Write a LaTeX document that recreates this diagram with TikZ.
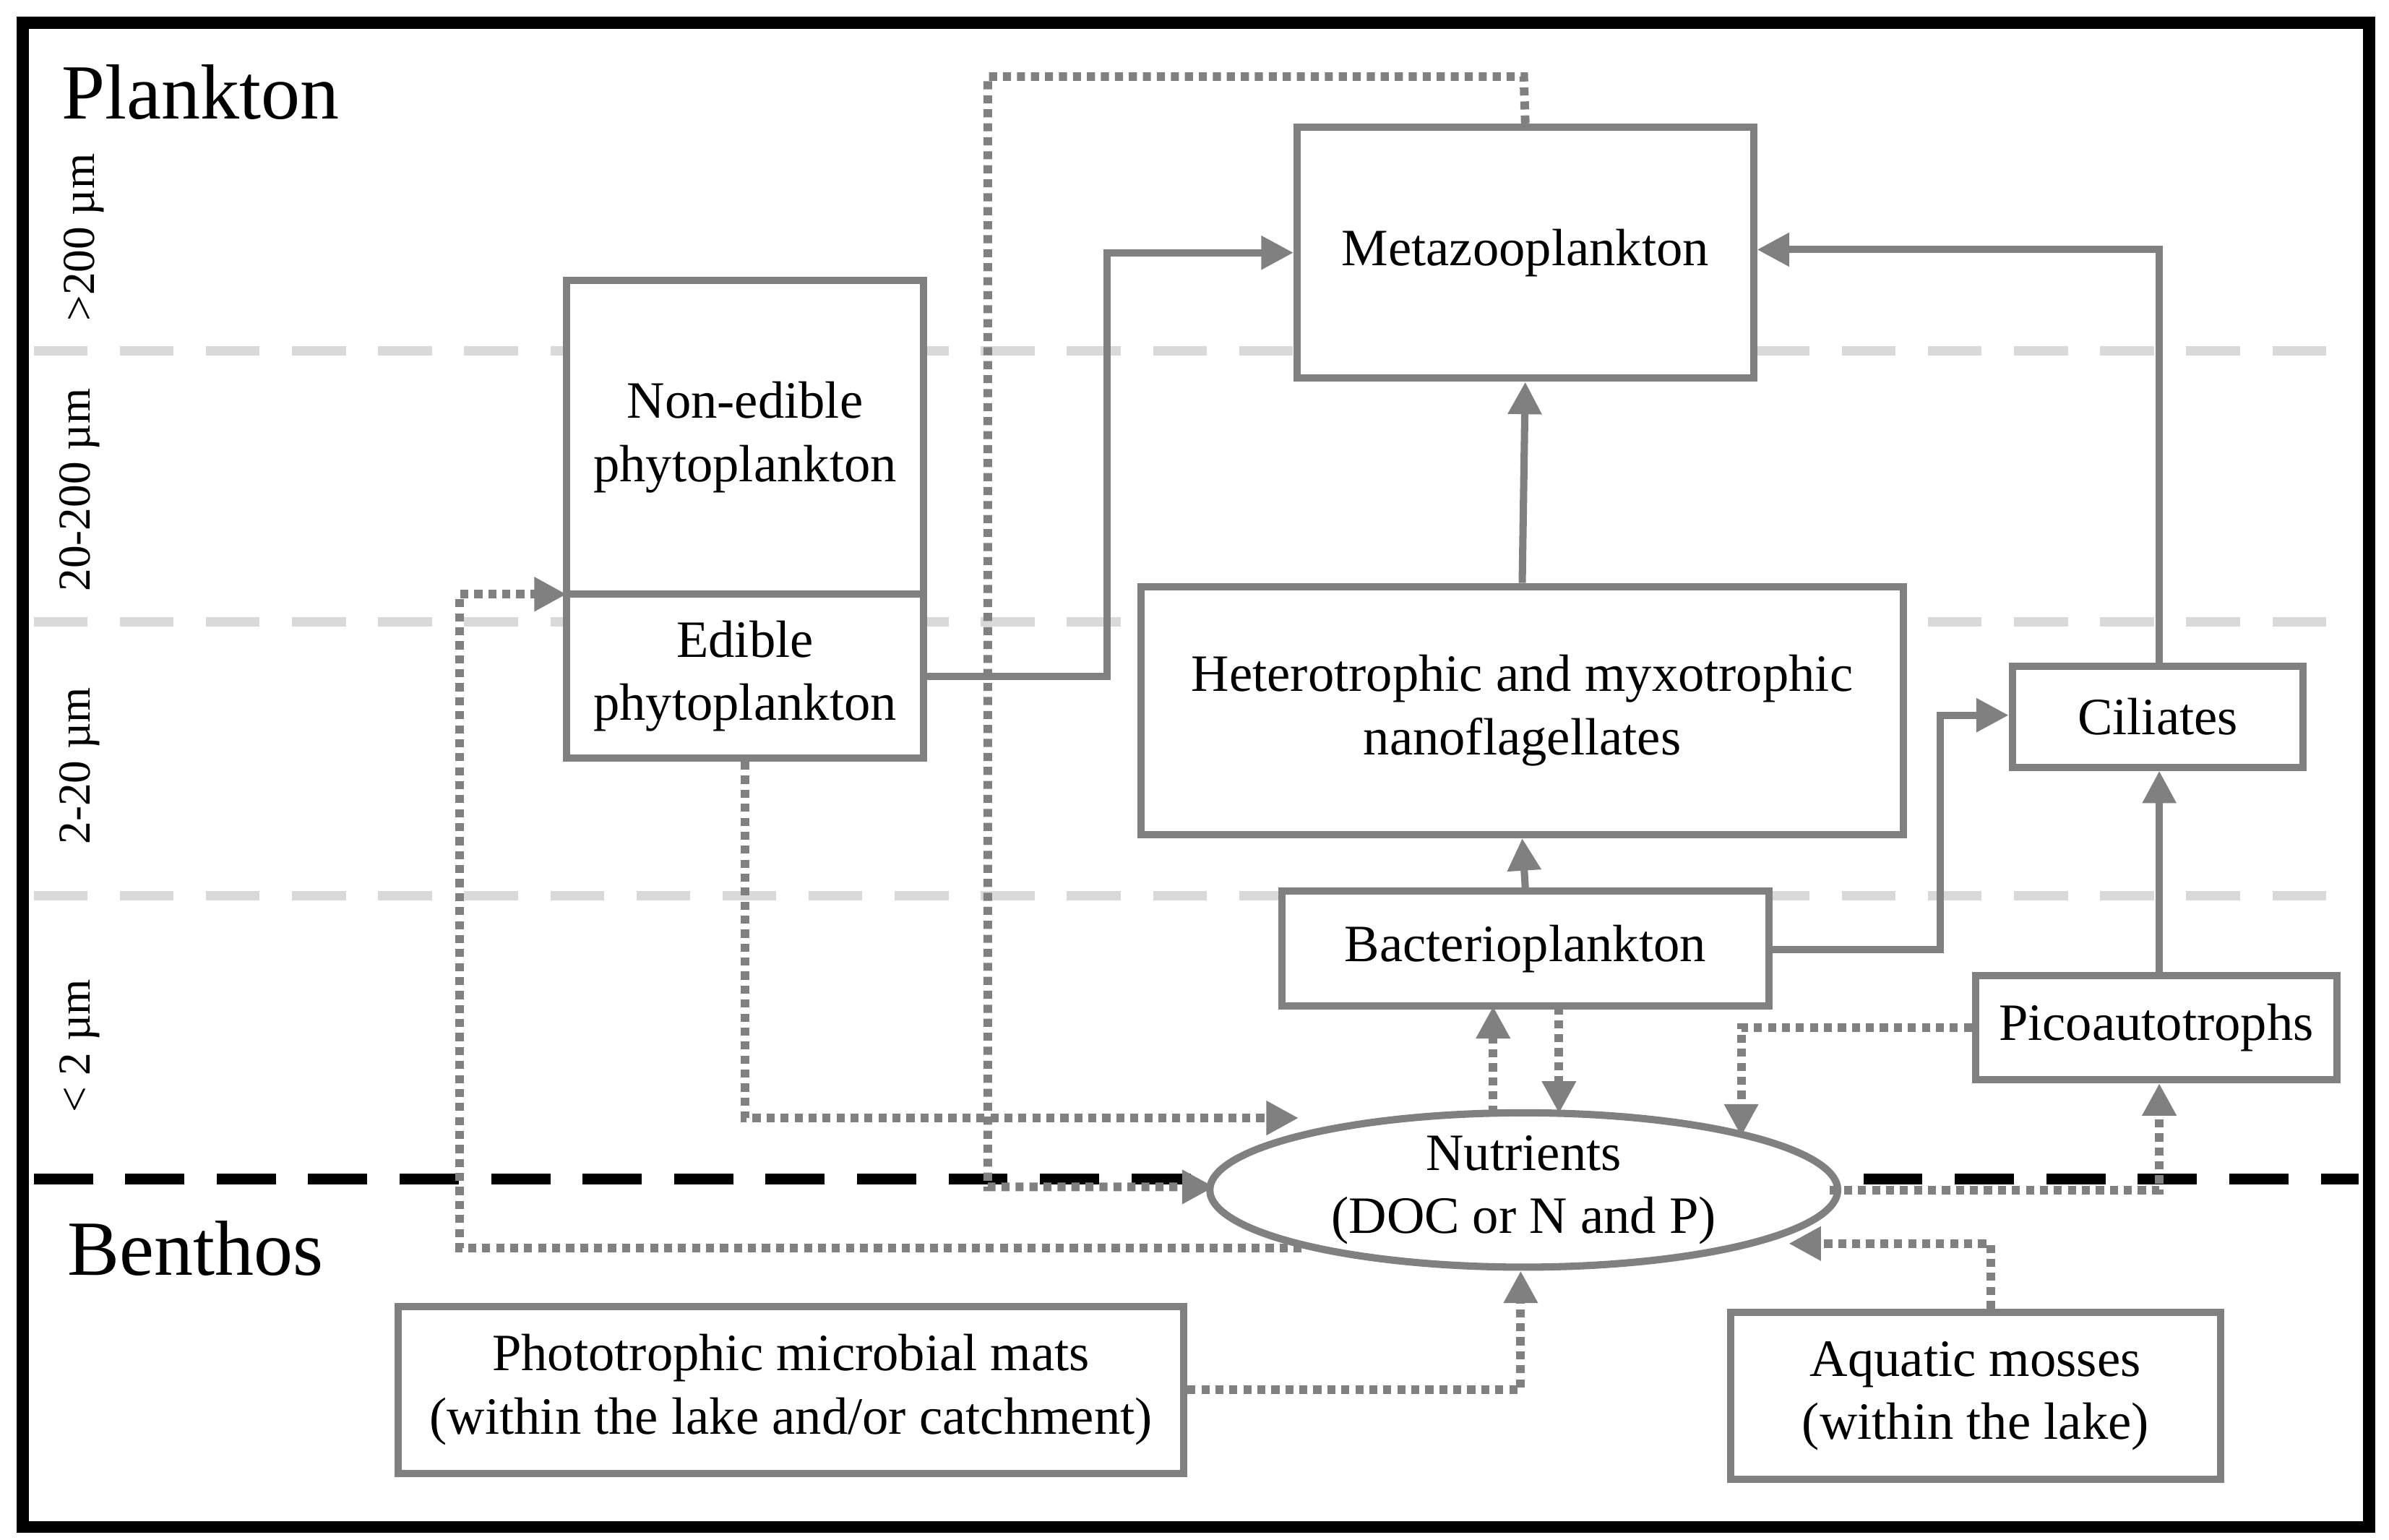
\documentclass[tikz,border=0pt]{standalone}
\usepackage{fontspec}
\setmainfont{Liberation Serif}
\usetikzlibrary{arrows.meta,shapes.geometric}
\definecolor{bx}{HTML}{808080}
\definecolor{lg}{HTML}{D9D9D9}
\begin{document}
\begin{tikzpicture}[x=0.02cm,y=-0.02cm,
 box/.style={draw=bx,line width=2.7pt,fill=white,font=\fontsize{19.5}{23.5}\selectfont,align=center,inner sep=0pt},
 sol/.style={draw=bx,line width=2.7pt,-{Triangle[length=12pt,width=12pt]}},
 dot/.style={draw=bx,line width=3.2pt,dash pattern=on 3pt off 2.2pt,-{Triangle[length=12pt,width=12pt]}},
 lab/.style={font=\fontsize{17}{19}\selectfont,rotate=90,anchor=center}]
\useasboundingbox (0,0) rectangle (1560,1005.5);
\fill[white] (0,0) rectangle (1560,1005.5);
% guide lines
\foreach \y in {229,406,585}{\draw[lg,line width=3.5pt,dash pattern=on 20pt off 12pt] (22,\y)--(1540,\y);}
\draw[black,line width=4pt,dash pattern=on 22pt off 12pt] (22,770)--(1540,770);
\draw[black,line width=4.5pt] (15,15) rectangle (1547,997);
\node[anchor=west,font=\fontsize{29}{33}\selectfont] (pl) at (34,60) {Plankton};
\node[anchor=west,font=\fontsize{29}{33}\selectfont] (be) at (38,815) {Benthos};
\node[lab] (s1) at (55,155) {>200 µm};
\node[lab] (s2) at (52,320) {20-200 µm};
\node[lab] (s3) at (52,500) {2-20 µm};
\node[lab] (s4) at (52,683) {< 2 µm};
% boxes
\node[box,minimum width=298*0.02cm,minimum height=164*0.02cm] (meta) at (996,165) {Metazooplankton};
\node[box,minimum width=233*0.02cm,minimum height=205*0.02cm] (non) at (486.5,285.5) {Non-edible\\phytoplankton};
\node[box,minimum width=233*0.02cm,minimum height=107*0.02cm] (edi) at (486.5,441.5) {Edible\\phytoplankton};
\node[box,minimum width=498*0.02cm,minimum height=162*0.02cm] (het) at (994,464) {Heterotrophic and myxotrophic\\nanoflagellates};
\node[box,minimum width=190*0.02cm,minimum height=66*0.02cm] (cil) at (1409,468) {Ciliates};
\node[box,minimum width=318*0.02cm,minimum height=75*0.02cm] (bac) at (996,619.5) {Bacterioplankton};
\node[box,minimum width=236*0.02cm,minimum height=68*0.02cm] (pic) at (1408,671) {Picoautotrophs};
\node[box,ellipse,minimum width=410*0.02cm,minimum height=100*0.02cm] (nut) at (995,777) {Nutrients\\(DOC or N and P)};
\node[box,minimum width=513*0.02cm,minimum height=109*0.02cm] (pho) at (516.5,907.5) {Phototrophic microbial mats\\(within the lake and/or catchment)};
\node[box,minimum width=320*0.02cm,minimum height=109*0.02cm] (mos) at (1290,911.5) {Aquatic mosses\\(within the lake)};
% solid arrows
\draw[sol] (edi.east) -- (723,441.5) -- (723,165) -- (meta.west);
\draw[sol] (het.north) -- (meta.south);
\draw[sol] (cil.north -| 1410,0) -- (1410,163) -- (meta.east |- 0,163);
\draw[sol] (bac.north) -- (het.south);
\draw[sol] (bac.east |- 0,620) -- (1267,620) -- (1267,467) -- (cil.west |- 0,467);
\draw[sol] (pic.north -| 1410,0) -- (cil.south -| 1410,0);
% dotted
\coordinate (m1) at (995,50);
\draw[dot] (meta.north) -- (m1) -- (645,50) -- (645,775) -- (793,775);
\draw[dot] (edi.south) -- (486.5,730) -- (848,730);
\draw[dot] (850,815) -- (300,815) -- (300,388) -- (370,388);
\draw[dot] (975,727) -- (975,657);
\draw[dot] (1018,657) -- (1018,727);
\draw[dot] (pic.west) -- (1137,671) -- (1137,742);
\draw[dot] (1195,777) -- (1410,777) -- (pic.south -| 1410,0);
\draw[dot] (pho.east) -- (993,907.5) -- (nut.south -| 993,0);
\draw[dot] (mos.north -| 1300,0) -- (1300,812) -- (1168,812);
\end{tikzpicture}
\end{document}
